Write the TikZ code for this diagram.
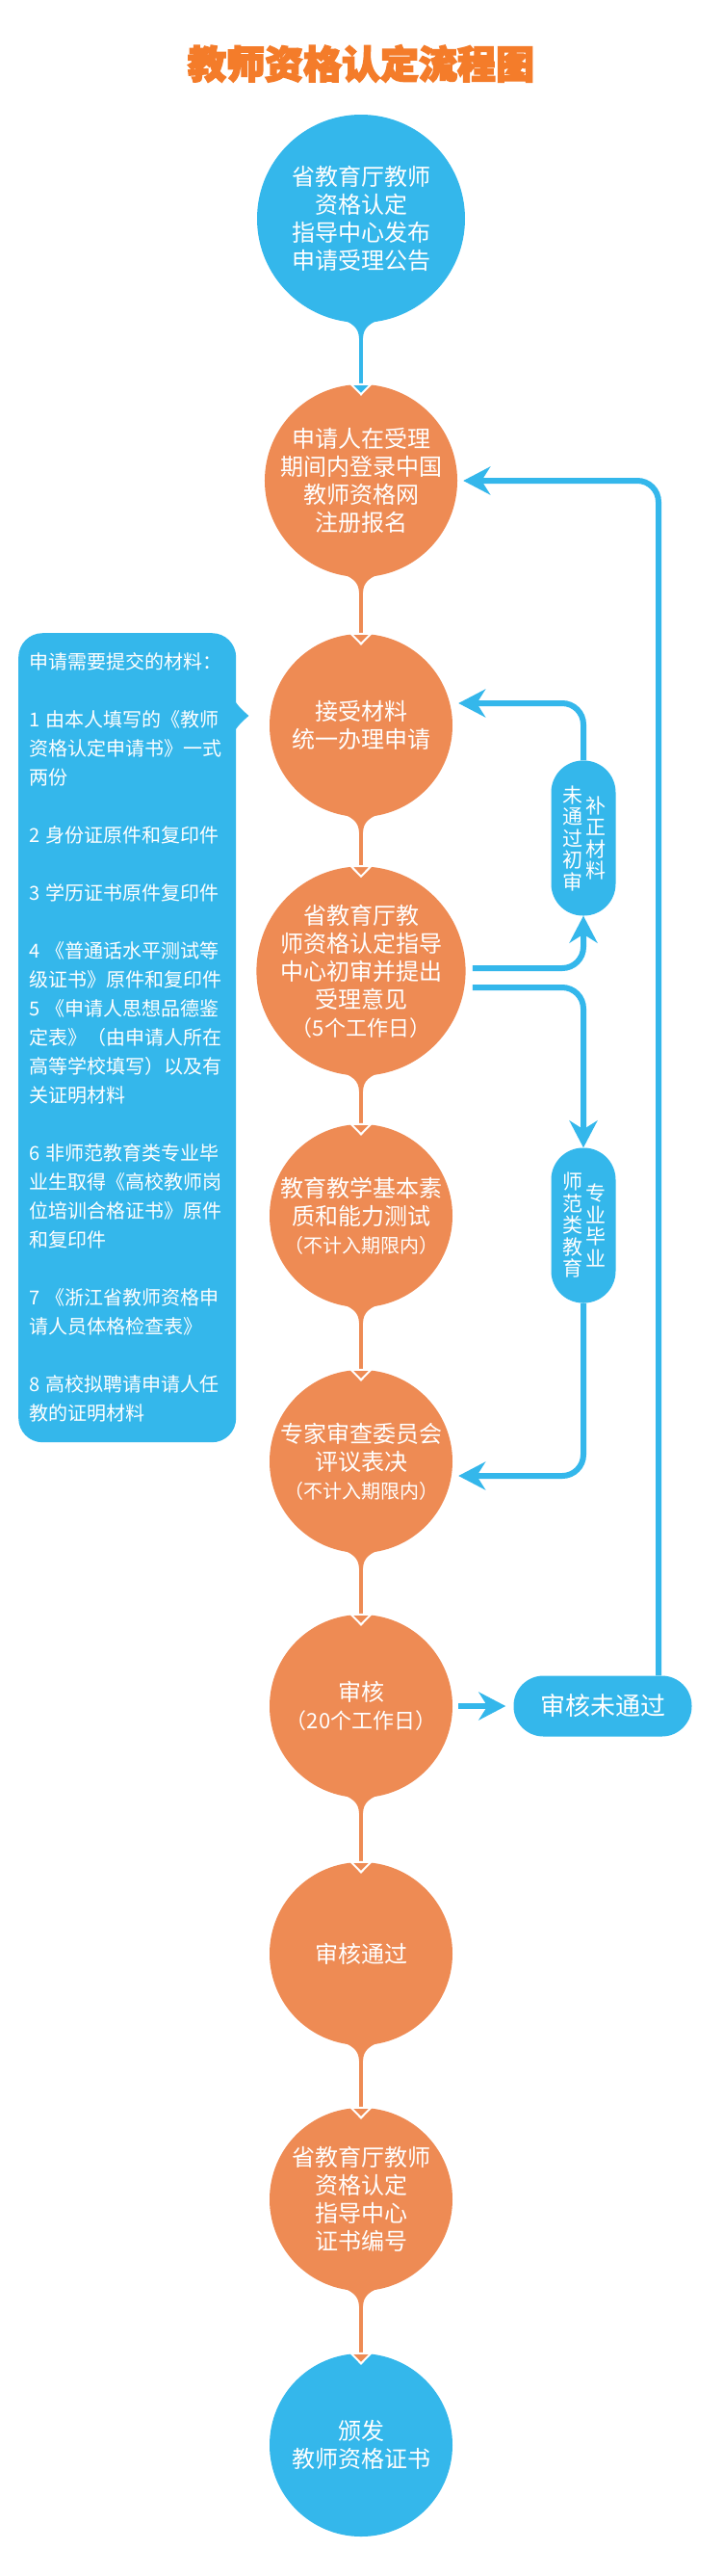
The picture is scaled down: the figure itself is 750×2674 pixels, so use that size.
\documentclass[tikz,border=0pt]{standalone}
\usepackage{fontspec}
\setmainfont{Noto Sans CJK SC}
\newfontfamily\titlefont{Noto Sans CJK SC}[BoldFeatures={FakeBold=4}]
\usepackage{tikz}
\usetikzlibrary{arrows.meta}
\definecolor{stepblue}{RGB}{52,183,235}
\definecolor{steporange}{RGB}{238,139,84}
\definecolor{titleorange}{RGB}{244,124,42}

\begin{document}
\begin{tikzpicture}[
                x=1pt, y=-1pt,
                % Define styles for nodes
                blue step/.style={circle, fill=stepblue, text=white, minimum size=190pt, inner sep=0pt, align=center, font=\fontsize{24}{29}\selectfont},
                orange step/.style={blue step, fill=steporange},
                side box/.style={fill=stepblue, rounded corners=33pt, minimum width=67pt, minimum height=161pt},
                side text/.style={text=white, align=center, inner sep=0pt, font=\fontsize{21}{22.5}\selectfont},
                % Define styles for connections
                blue line/.style={draw=stepblue, line width=4.5pt},
                orange line/.style={draw=steporange, line width=4.5pt},
                down blue/.style={blue line, -{Triangle[width=25pt,length=13pt,fill=stepblue,color=white,line width=2pt]}},
                down orange/.style={orange line, -{Triangle[width=25pt,length=13pt,fill=steporange,color=white,line width=2pt]}},
                side arrow/.style={draw=stepblue, line width=6pt, rounded corners=22pt, -{Stealth[length=28pt,width=29pt,inset=9pt]}}
            ]
                \fill[white] (0,0) rectangle (750,2674);
                \useasboundingbox (0,0) rectangle (750,2674);

                % Title
                \node[text=titleorange, font=\titlefont\bfseries\fontsize{40}{40}\selectfont] (T) at (375,66) {教师资格认定流程图};

                % Define nodes
                \node[blue step, minimum size=216pt] (S1) at (375,227) {省教育厅教师\\资格认定\\指导中心发布\\申请受理公告};
                \node[orange step] (S2) at (375,499) {申请人在受理\\期间内登录中国\\教师资格网\\注册报名};
                \node[orange step] (S3) at (375,753) {接受材料\\统一办理申请};
                \node[orange step] (S4) at (375,1008) {省教育厅教\\师资格认定指导\\中心初审并提出\\受理意见\\{\fontsize{22}{29}\selectfont（5个工作日）}};
                \node[orange step] (S5) at (375,1262) {教育教学基本素\\质和能力测试\\{\fontsize{20}{29}\selectfont（不计入期限内）}};
                \node[orange step] (S6) at (375,1517) {专家审查委员会\\评议表决\\{\fontsize{20}{29}\selectfont（不计入期限内）}};
                \node[orange step] (S7) at (375,1771) {审核\\{\fontsize{22}{29}\selectfont（20个工作日）}};
                \node[orange step] (S8) at (375,2028) {审核通过};
                \node[orange step] (S9) at (375,2283) {省教育厅教师\\资格认定\\指导中心\\证书编号};
                \node[blue step] (S10) at (375,2538) {颁发\\教师资格证书};

                % Materials list
                \node[fill=stepblue, text=white, rounded corners=25pt, anchor=north west, text width=204pt, inner xsep=11pt, minimum height=840pt, align=left, font=\fontsize{20}{30}\selectfont] (M) at (19,657) {申请需要提交的材料：\\[30pt]
                    1 由本人填写的《教师\\资格认定申请书》一式\\两份\\[30pt]
                    2 身份证原件和复印件\\[30pt]
                    3 学历证书原件复印件\\[30pt]
                    4 《普通话水平测试等\\级证书》原件和复印件\\
                    5 《申请人思想品德鉴\\定表》（由申请人所在\\高等学校填写）以及有\\关证明材料\\[30pt]
                    6 非师范教育类专业毕\\业生取得《高校教师岗\\位培训合格证书》原件\\和复印件\\[30pt]
                    7 《浙江省教师资格申\\请人员体格检查表》\\[30pt]
                    8 高校拟聘请申请人任\\教的证明材料};
                \fill[stepblue] ([shift={(-2pt,-70pt)}]M.north east) .. controls ([shift={(4pt,-78pt)}]M.north east) .. ([shift={(13pt,-86pt)}]M.north east) .. controls ([shift={(4pt,-94pt)}]M.north east) .. ([shift={(-2pt,-102pt)}]M.north east) -- cycle;

                % Side boxes
                \node[side box] (P1) at (606,870) {};
                \node[side text] (P1a) at ([xshift=-11pt]P1.center) {未\\通\\过\\初\\审};
                \node[side text] (P1b) at ([xshift=13pt]P1.center) {补\\正\\材\\料};
                \node[side box] (P2) at (606,1272) {};
                \node[side text] (P2a) at ([xshift=-11pt]P2.center) {师\\范\\类\\教\\育};
                \node[side text] (P2b) at ([xshift=13pt]P2.center) {专\\业\\毕\\业};
                \node[fill=stepblue, text=white, rounded corners=31pt, minimum width=185pt, minimum height=63pt, font=\fontsize{26}{26}\selectfont] (F) at (626,1771) {审核未通过};
                \coordinate (R) at (684,0);

                % Tails under the circles
                \foreach \s/\c in {S1/stepblue, S2/steporange, S3/steporange, S4/steporange, S5/steporange, S6/steporange, S7/steporange, S8/steporange, S9/steporange}
                    \fill[\c] ([shift={(-26pt,6pt)}]\s.south) .. controls ([shift={(-8pt,0pt)}]\s.south) and ([shift={(-2.5pt,-5pt)}]\s.south) .. ([shift={(-2pt,-16pt)}]\s.south) -- ([shift={(2pt,-16pt)}]\s.south) .. controls ([shift={(2.5pt,-5pt)}]\s.south) and ([shift={(8pt,0pt)}]\s.south) .. ([shift={(26pt,6pt)}]\s.south) -- cycle;

                % Draw main connections
                \draw[down blue] (S1.south) -- ([yshift=-12pt]S2.north);
                \foreach \a/\b in {S2/S3, S3/S4, S4/S5, S5/S6, S6/S7, S7/S8, S8/S9, S9/S10}
                    \draw[down orange] (\a.south) -- ([yshift=-12pt]\b.north);

                % Draw side connections
                \draw[side arrow] (F.north -| R) |- ([xshift=6pt]S2.east);
                \draw[side arrow] (P1.north) |- ([shift={(6pt,23pt)}]S3.east);
                \draw[side arrow] ([shift={(7pt,3pt)}]S4.east) -| (P1.south);
                \draw[side arrow] ([shift={(7pt,-17pt)}]S4.east) -| (P2.north);
                \draw[side arrow] (P2.south) |- ([shift={(6pt,-15pt)}]S6.east);
                \draw[side arrow] ([xshift=6pt]S7.east) -- ([xshift=-8pt]F.west);
            \end{tikzpicture}
\end{document}
